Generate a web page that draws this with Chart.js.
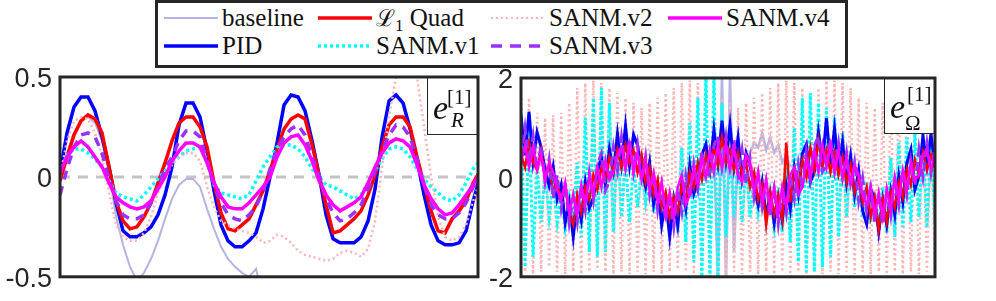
<!DOCTYPE html>
<html>
<head>
<meta charset="utf-8">
<script src="https://cdn.jsdelivr.net/npm/chart.js@4.4.1/dist/chart.umd.min.js"></script>
<style>
  html,body{margin:0;padding:0;background:#fff;overflow:hidden;}
  #wrap{position:relative;width:996px;height:301px;}
  canvas{position:absolute;left:0;top:0;}
  #leg{position:absolute;left:0;top:0;}
</style>
</head>
<body>
<div id="wrap">
  <canvas id="cl" width="996" height="301"></canvas>
  <canvas id="cr" width="996" height="301"></canvas>
  <svg id="leg" width="996" height="72"></svg>
</div>
<script>
// ---------- data: left panel (e_R) ----------
const leftTime = [0,0.1,0.2,0.3,0.4,0.5,0.6,0.7,0.8,0.9,1,1.1,1.2,1.3,1.4,1.5,1.6,1.7,1.8,1.9,2,2.1,2.2,2.3,2.4,2.5,2.6,2.7,2.8,2.9,3,3.1,3.2,3.3,3.4,3.5,3.6,3.7,3.8,3.9,4,4.1,4.2,4.3,4.4,4.5,4.6,4.7,4.8,4.9,5,5.1,5.2,5.3,5.4,5.5,5.6,5.7,5.8,5.9,6];
const leftBaseline = [0.00,0.12,0.22,0.28,0.30,0.27,0.18,0.02,-0.20,-0.34,-0.45,-0.52,-0.48,-0.41,-0.32,-0.21,-0.11,-0.04,-0.01,-0.01,-0.05,-0.16,-0.26,-0.35,-0.41,-0.45,-0.48,-0.50,-0.46,-0.62,null,null,null,null,null,null,null,null,null,null,null,null,null,null,null,null,null,null,null,null,null,null,null,null,null,null,null,null,null,null,null];
const leftPID = [0.02,0.22,0.35,0.40,0.40,0.33,0.20,0.05,-0.13,-0.27,-0.30,-0.30,-0.28,-0.25,-0.19,-0.09,0.05,0.26,0.37,0.37,0.30,0.13,-0.07,-0.24,-0.32,-0.35,-0.35,-0.32,-0.28,-0.16,0.00,0.17,0.36,0.41,0.40,0.33,0.18,0.01,-0.19,-0.31,-0.33,-0.33,-0.33,-0.30,-0.22,-0.06,0.20,0.38,0.41,0.37,0.24,0.08,-0.09,-0.24,-0.32,-0.34,-0.34,-0.33,-0.27,-0.12,0.00];
const leftL1 = [-0.02,0.10,0.21,0.28,0.31,0.29,0.22,0.05,-0.12,-0.22,-0.26,-0.25,-0.20,-0.13,-0.03,0.07,0.18,0.27,0.30,0.30,0.25,0.15,-0.03,-0.18,-0.26,-0.27,-0.24,-0.21,-0.14,-0.07,0.03,0.14,0.24,0.29,0.31,0.29,0.16,0.01,-0.14,-0.28,-0.27,-0.24,-0.21,-0.17,-0.09,0.01,0.15,0.26,0.30,0.30,0.25,0.10,-0.04,-0.17,-0.27,-0.28,-0.21,-0.17,-0.12,-0.03,0.03];
const leftV1 = [0.02,0.11,0.14,0.14,0.12,0.09,0.05,-0.02,-0.08,-0.10,-0.11,-0.12,-0.09,-0.05,-0.01,0.03,0.07,0.10,0.13,0.14,0.15,0.08,-0.04,-0.08,-0.09,-0.10,-0.11,-0.09,-0.02,0.05,0.10,0.15,0.16,0.16,0.14,0.10,0.04,0.00,-0.04,-0.05,-0.07,-0.09,-0.11,-0.09,-0.03,0.03,0.09,0.14,0.15,0.14,0.10,0.04,-0.01,-0.05,-0.08,-0.11,-0.12,-0.09,-0.03,0.04,0.08];
const leftV2 = [0.00,0.18,0.28,0.30,0.29,0.22,0.10,-0.08,-0.24,-0.30,-0.32,-0.32,-0.28,-0.20,-0.08,0.00,0.06,0.10,0.12,0.12,0.08,-0.05,-0.15,-0.22,-0.24,-0.26,-0.27,-0.28,-0.30,-0.33,-0.32,-0.29,-0.30,-0.33,-0.37,-0.39,-0.40,-0.41,-0.42,-0.41,-0.38,-0.37,-0.38,-0.40,-0.36,-0.22,0.05,0.30,0.50,0.53,0.53,0.50,0.25,0.00,-0.20,-0.30,-0.32,-0.30,-0.24,-0.12,-0.02];
const leftV3 = [-0.09,0.04,0.15,0.21,0.22,0.20,0.12,-0.01,-0.12,-0.19,-0.21,-0.21,-0.19,-0.13,-0.05,0.04,0.10,0.18,0.23,0.23,0.20,0.08,-0.04,-0.13,-0.19,-0.21,-0.22,-0.19,-0.15,-0.07,0.04,0.14,0.20,0.24,0.26,0.21,0.10,0.01,-0.11,-0.18,-0.22,-0.21,-0.18,-0.14,-0.06,0.03,0.13,0.21,0.26,0.25,0.20,0.09,-0.04,-0.14,-0.19,-0.21,-0.21,-0.18,-0.13,-0.05,0.00];
const leftV4 = [0.02,0.10,0.15,0.18,0.15,0.10,0.05,-0.03,-0.10,-0.13,-0.15,-0.16,-0.15,-0.12,-0.06,0.00,0.08,0.13,0.17,0.17,0.15,0.07,-0.03,-0.10,-0.15,-0.16,-0.16,-0.13,-0.09,-0.05,0.00,0.10,0.17,0.20,0.21,0.16,0.08,-0.02,-0.09,-0.14,-0.17,-0.15,-0.13,-0.10,-0.03,0.05,0.12,0.17,0.19,0.18,0.15,0.06,-0.04,-0.11,-0.16,-0.19,-0.18,-0.14,-0.09,-0.04,0.02];
const leftTicks = [-0.5, 0, 0.5];
const zeroRef = 0;

// ---------- data: right panel (e_Omega) ----------
const rightTime = [0,0.06,0.12,0.18,0.24,0.3,0.36,0.42,0.48,0.54,0.6,0.66,0.72,0.78,0.84,0.9,0.96,1.02,1.08,1.14,1.2,1.26,1.32,1.38,1.44,1.5,1.56,1.62,1.68,1.74,1.8,1.86,1.92,1.98,2.04,2.1,2.16,2.22,2.28,2.34,2.4,2.46,2.52,2.58,2.64,2.7,2.76,2.82,2.88,2.94,3,3.06,3.12,3.18,3.24,3.3,3.36,3.42,3.48,3.54,3.6,3.66,3.72,3.78,3.84,3.9,3.96,4.02,4.08,4.14,4.2,4.26,4.32,4.38,4.44,4.5,4.56,4.62,4.68,4.74,4.8,4.86,4.92,4.98,5.04,5.1,5.16,5.22,5.28,5.34,5.4,5.46,5.52,5.58,5.64,5.7,5.76,5.82,5.88,5.94,6,6.06,6.12,6.18];
const rightBaseline = [0.5,0.45,0.5,0.4,0.4,0.25,0.2,0.0,0.0,-0.2,-0.2,-0.4,-0.4,-0.55,-0.45,-0.4,-0.25,-0.25,-0.1,-0.05,0.05,0.1,0.2,0.2,0.35,0.3,0.4,0.35,0.35,0.25,0.2,0.05,0.0,-0.15,-0.2,-0.4,-0.4,-0.55,-0.45,-0.45,-0.25,-0.25,-0.05,-0.05,0.1,0.1,0.25,0.3,0.6,-2.1,2.1,-2.1,2.1,-1.5,0.6,0.2,0.3,0.5,0.7,0.6,0.9,0.55,0.8,0.5,0.65,0.3,0.45,0.2,null,null,null,null,null,null,null,null,null,null,null,null,null,null,null,null,null,null,null,null,null,null,null,null,null,null,null,null,null,null,null,null,null,null];
const rightPID = [1.25,0.45,1.32,0.32,0.91,0.61,0.15,-0.17,0.22,-0.44,-0.15,-0.91,-0.50,-1.20,-0.45,-0.86,-0.10,-0.62,-0.41,0.11,0.40,-0.14,0.57,0.13,0.88,0.26,1.04,0.24,0.86,0.65,0.15,-0.19,0.30,-0.54,-0.13,-0.96,-0.47,-1.20,-0.45,-0.97,-0.15,-0.62,0.24,-0.33,-0.09,0.45,0.67,0.17,0.96,0.29,1.14,0.34,1.06,0.21,0.80,-0.03,0.49,0.24,-0.22,-0.56,-0.10,-0.78,-0.34,-0.92,-0.42,-0.87,-0.16,-0.64,0.19,-0.33,0.48,0.67,-0.09,0.12,0.91,0.29,1.19,0.26,0.99,0.18,0.72,-0.11,0.43,-0.35,0.14,-0.67,-0.94,-0.23,-0.44,-1.10,-0.45,-0.95,-0.28,-0.75,0.03,-0.49,0.29,0.56,-0.25,0.02,0.83,0.23,0.88,0.20];
const rightL1 = [0.45,0.20,0.70,0.30,0.15,0.55,-0.05,0.25,-0.30,-0.10,-0.45,-0.15,-0.75,-0.95,-0.35,-0.70,-0.20,-0.45,0.05,-0.25,0.20,-0.05,0.40,0.10,0.55,0.20,0.65,0.30,0.55,0.10,0.45,-0.10,0.20,-0.35,-0.05,-0.60,-0.30,-0.80,-0.40,-0.70,-0.15,-0.45,0.10,-0.20,0.30,-0.05,0.45,0.10,0.60,0.25,0.80,0.30,0.55,0.15,0.50,0.05,0.30,-0.20,0.10,-0.45,-0.15,-0.95,-0.30,-0.75,-0.35,-0.85,0.70,-0.50,0.15,-0.20,0.35,0.00,0.60,0.15,0.75,0.25,0.55,0.10,0.50,0.05,0.40,-0.10,0.25,-0.30,0.00,-0.50,-0.20,-0.80,-0.40,-1.05,-0.45,-0.90,-0.30,-0.60,-0.10,-0.40,0.15,-0.15,0.35,0.05,0.50,0.15,0.45,0.20];
const rightV1 = [1.4,-1.8,1.2,-1.6,0.2,-0.9,0.1,-0.8,-0.1,-0.9,-0.3,-1.0,-0.4,-0.9,0.3,-1.2,1.2,-1.5,1.6,-1.6,1.8,-1.5,1.5,-1.1,0.9,-0.8,0.4,-0.9,0.3,-0.6,0.2,-0.5,0.1,-0.7,-0.2,-0.9,-0.4,-1.0,-0.3,-1.1,0.6,-1.3,1.1,-1.7,1.6,-2.1,2.1,-2.1,2.1,-2.1,1.5,-1.2,0.6,-0.8,0.5,-0.9,0.3,-0.8,0.1,-0.7,-0.1,-0.9,-0.3,-1.0,-0.2,-1.1,0.2,-1.3,1.0,-1.7,1.6,-1.9,1.7,-1.9,1.5,-1.8,1.4,-1.6,1.2,-1.2,0.9,-0.8,0.5,-0.6,0.1,-0.8,-0.1,-0.9,-0.3,-1.0,-0.2,-1.1,0.4,-1.2,0.7,-1.0,0.8,-0.9,0.9,-0.8,0.9,-1.0,0.8,-0.9];
const rightV2 = [1.9,-1.9,1.6,-1.95,1.3,-1.9,1.2,-1.8,1.25,-1.9,1.3,-1.95,1.5,-1.9,1.8,-1.95,1.9,-1.9,1.95,-1.85,1.9,-1.9,1.8,-1.95,1.7,-1.9,1.6,-1.95,1.5,-1.9,1.4,-1.95,1.5,-1.9,1.6,-1.95,1.7,-1.9,1.8,-1.85,1.9,-1.9,1.95,-1.95,1.9,-1.9,1.95,-1.95,1.8,-1.9,1.6,-1.95,1.5,-1.9,1.4,-1.95,1.5,-1.9,1.6,-1.95,1.7,-1.9,1.8,-1.95,1.9,-1.9,1.95,-1.95,1.9,-1.9,1.8,-1.95,1.7,-1.9,1.8,-1.95,1.95,-1.9,1.95,-1.95,1.9,-1.9,1.8,-1.95,1.6,-1.9,1.5,-1.95,1.4,-1.9,1.5,-1.95,1.7,-1.9,1.8,-1.95,1.6,-1.9,1.4,-1.95,1.2,-1.9,1.1,-1.95];
const rightV3 = [0.40,1.00,0.32,0.84,0.14,0.66,-0.09,0.37,-0.42,0.05,-0.63,-0.16,-0.92,-0.40,-0.91,-0.19,-0.66,0.09,-0.46,0.25,0.48,-0.26,-0.08,0.61,0.14,0.81,0.18,0.78,0.11,0.66,-0.05,0.43,-0.35,0.09,-0.66,-0.16,-0.89,-0.35,-1.00,-0.25,-0.70,0.04,-0.43,0.27,-0.22,0.52,-0.04,0.12,0.64,0.83,0.22,0.82,0.14,0.76,0.06,0.56,-0.14,0.37,-0.40,0.08,-0.59,-0.09,-0.78,-0.25,-0.94,-0.25,-0.72,0.03,-0.43,0.27,-0.23,0.52,-0.04,0.64,0.83,0.12,0.22,0.79,0.14,0.69,0.00,0.50,-0.20,0.30,-0.48,-0.01,-0.69,-0.22,-0.90,-0.35,-0.95,-0.27,-0.77,-0.06,-0.56,0.14,-0.35,0.34,-0.17,0.57,0.01,0.69,0.09,0.63];
const rightV4 = [0.30,0.65,0.20,0.60,0.15,0.45,-0.05,0.30,0.10,-0.25,-0.45,-0.10,-0.70,-0.35,-0.75,-0.15,-0.55,0.05,-0.35,0.20,-0.20,0.35,-0.05,0.10,0.45,0.60,0.15,0.65,0.10,0.50,-0.05,0.35,-0.25,0.10,-0.50,-0.10,-0.75,-0.30,-0.80,-0.20,0.05,-0.55,-0.35,0.20,-0.15,0.40,0.00,0.55,0.10,0.65,0.20,0.70,0.15,0.60,0.05,-0.10,0.45,0.30,-0.30,0.10,-0.50,-0.05,-0.65,-0.20,-0.75,-0.20,-0.60,0.05,0.20,-0.35,-0.20,0.40,0.00,0.55,0.10,0.65,0.20,0.65,0.10,0.55,0.00,0.40,-0.15,0.25,0.05,-0.35,-0.55,-0.20,-0.75,-0.30,-0.80,-0.25,-0.65,0.00,-0.45,0.15,-0.25,0.30,-0.05,0.05,0.45,0.55,0.15,0.50];
const rightTicks = [-2, 0, 2];

// ---------- legend entries ----------
const seriesNames = ['baseline','PID','L1 Quad','SANM.v1','SANM.v2','SANM.v3','SANM.v4'];
const seriesColors = ['#b4b4e4','#0000ff','#ff0000','#00ffff','#ffb4b4','#9b30ff','#ff00ff'];

// ---------- styles ----------
const styles = {
  baseline:{w:2, dash:[]},
  PID:{w:3.5, dash:[]},
  L1:{w:3.5, dash:[]},
  v1:{w:3.5, dash:[3,3]},
  v2:{w:2.5, dash:[2,3]},
  v3:{w:3.5, dash:[9,7]},
  v4:{w:3.5, dash:[]}
};

function pts(t, v){ return t.map((x,i)=>({x:x, y:v[i]})); }
function ds(label, t, v, color, st){
  return {label, data:pts(t,v), borderColor:color, borderWidth:st.w, borderDash:st.dash,
          pointRadius:0, tension:0, fill:false, spanGaps:false, clip:0, borderCapStyle:'butt'};
}

const framePlugin = {
  id:'frame',
  afterDatasetsDraw(chart, args, o){
    const {ctx, chartArea:a} = chart;
    ctx.save();
    const bw = o.boxW, bh = o.boxH;
    ctx.fillStyle = '#fff';
    ctx.fillRect(a.right - bw, a.top, bw, bh);
    ctx.strokeStyle = '#262626'; ctx.lineWidth = 1;
    ctx.strokeRect(a.right - bw + 0.5, a.top + 0.5, bw, bh);
    ctx.lineWidth = 3;
    ctx.strokeRect(a.left, a.top, a.right - a.left, a.bottom - a.top);
    ctx.fillStyle = '#111';
    ctx.textBaseline = 'alphabetic';
    ctx.font = 'italic 34px "Liberation Serif", "DejaVu Serif", serif';
    ctx.fillText('e', a.right - bw + o.eX, a.top + o.eY);
    ctx.font = '21px "Liberation Serif", "DejaVu Serif", serif';
    ctx.fillText('[1]', a.right - bw + o.supX, a.top + o.supY);
    ctx.font = (o.subItalic ? 'italic ' : '') + '21px "Liberation Serif", "DejaVu Serif", serif';
    ctx.fillText(o.sub, a.right - bw + o.subX, a.top + o.subY);
    ctx.restore();
  }
};

function baseOptions(pad, yMin, yMax, ticks, yWidth, xMax, frameOpts){
  return {
    responsive:false, animation:false, devicePixelRatio:1,
    layout:{padding:pad},
    plugins:{legend:{display:false}, tooltip:{enabled:false}, frame:frameOpts},
    scales:{
      x:{type:'linear', min:0, max:xMax, display:false},
      y:{type:'linear', min:yMin, max:yMax,
         afterBuildTicks(s){ s.ticks = ticks.map(v=>({value:v})); },
         afterFit(s){ s.width = yWidth; },
         ticks:{color:'#262626', padding:8, labelOffset:3, font:{family:'"Liberation Sans", Arial, sans-serif', size:27}},
         grid:{display:false, drawTicks:false}, border:{display:false}}
    }
  };
}

new Chart(document.getElementById('cl'), {
  type:'line',
  data:{datasets:[
    ds('SANM.v4', leftTime, leftV4, seriesColors[6], styles.v4),
    ds('SANM.v3', leftTime, leftV3, seriesColors[5], styles.v3),
    ds('SANM.v2', leftTime, leftV2, seriesColors[4], styles.v2),
    ds('SANM.v1', leftTime, leftV1, seriesColors[3], styles.v1),
    ds('L1 Quad', leftTime, leftL1, seriesColors[2], styles.L1),
    ds('PID', leftTime, leftPID, seriesColors[1], styles.PID),
    ds('baseline', leftTime, leftBaseline, seriesColors[0], styles.baseline),
    {label:'zero', data:[{x:leftTime[0], y:zeroRef},{x:leftTime[leftTime.length-1], y:zeroRef}],
     borderColor:'#c4c4c4', borderWidth:3, borderDash:[10,8], pointRadius:0, clip:0}
  ]},
  options: baseOptions({left:0, top:77, right:518, bottom:18}, -0.5, 0.5, leftTicks, 60, 5.97,
    {boxW:51, boxH:57, eX:6, eY:42, supX:20, supY:27, sub:'R', subItalic:true, subX:24, subY:50}),
  plugins:[framePlugin]
});

// right: cyan drawn above the pink chatter
new Chart(document.getElementById('cr'), {
  type:'line',
  data:{datasets:[
    ds('SANM.v4', rightTime, rightV4, seriesColors[6], {w:2.5, dash:[]}),
    ds('SANM.v3', rightTime, rightV3, seriesColors[5], {w:3, dash:[9,5]}),
    ds('L1 Quad', rightTime, rightL1, seriesColors[2], {w:2.5, dash:[]}),
    ds('PID', rightTime, rightPID, seriesColors[1], {w:3, dash:[]}),
    ds('SANM.v1', rightTime, rightV1, seriesColors[3], {w:3, dash:[3,2]}),
    ds('SANM.v2', rightTime, rightV2, seriesColors[4], {w:2.5, dash:[2,3]}),
    ds('baseline', rightTime, rightBaseline, seriesColors[0], {w:2.5, dash:[]})
  ]},
  options: baseOptions({left:481, top:78, right:61, bottom:17}, -2, 2, rightTicks, 40, 6.18,
    {boxW:51, boxH:55, eX:6, eY:40, supX:23, supY:23, sub:'\u03A9', subItalic:false, subX:21, subY:52}),
  plugins:[framePlugin]
});

(function(){
  const svg = document.getElementById('leg');
  const NS = 'http://www.w3.org/2000/svg';
  const mk = (tag, attrs) => { const e = document.createElementNS(NS, tag); for (const k in attrs) e.setAttribute(k, attrs[k]); svg.appendChild(e); return e; };
  mk('rect', {x:156.5, y:1.5, width:690, height:65, fill:'#fff', stroke:'#262626', 'stroke-width':3});
  const colX = [164, 318, 491, 668];
  const rowY = [18, 46];
  const layout = [[0,0],[0,1],[1,0],[1,1],[2,0],[2,1],[3,0]];
  const legStyle = [
    {w:2, dash:''}, {w:3.5, dash:''}, {w:3.5, dash:''}, {w:3.5, dash:'3 3'},
    {w:2, dash:'2 3'}, {w:3.5, dash:'11 8'}, {w:3.5, dash:''}
  ];
  seriesNames.forEach((name, i) => {
    const [c, r] = layout[i];
    const x0 = colX[c], y = rowY[r];
    const ln = mk('line', {x1:x0, y1:y, x2:x0+54, y2:y, stroke:seriesColors[i], 'stroke-width':legStyle[i].w});
    if (legStyle[i].dash) ln.setAttribute('stroke-dasharray', legStyle[i].dash);
    const t = mk('text', {x:x0+58, y:y+8, 'font-family':'"Liberation Serif", "DejaVu Serif", serif', 'font-size':25, fill:'#111'});
    if (name === 'L1 Quad') {
      const a = document.createElementNS(NS,'tspan'); a.textContent = '\u2112'; a.setAttribute('font-family','"DejaVu Serif", serif'); a.setAttribute('font-size','23'); t.appendChild(a);
      const b = document.createElementNS(NS,'tspan'); b.textContent = '1'; b.setAttribute('font-size','17'); b.setAttribute('dy','5'); t.appendChild(b);
      const d = document.createElementNS(NS,'tspan'); d.textContent = ' Quad'; d.setAttribute('dy','-5'); t.appendChild(d);
    } else {
      t.textContent = name;
    }
  });
})();
</script>
</body>
</html>
